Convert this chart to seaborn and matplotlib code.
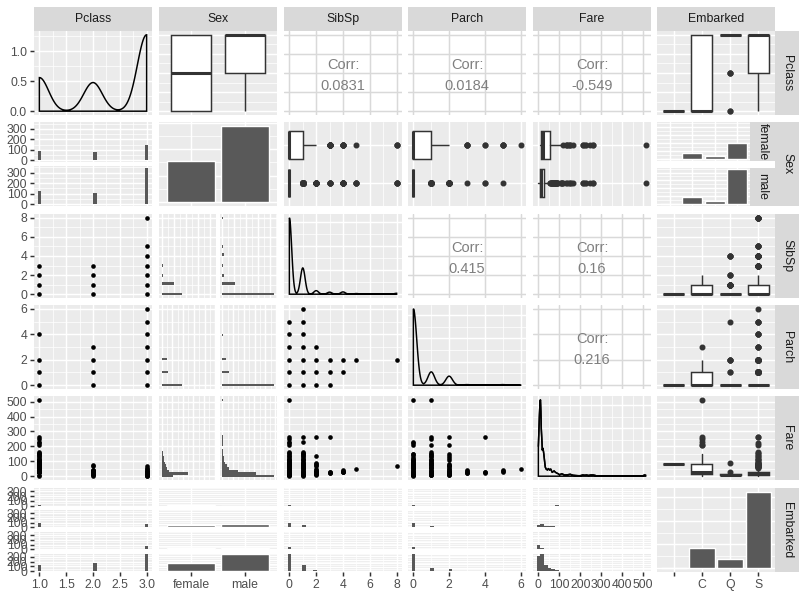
import numpy as np
import pandas as pd
import matplotlib
matplotlib.use("Agg")
import matplotlib.pyplot as plt
import seaborn as sns

# --- Titanic values ---
pclass_levels = [1, 2, 3]
pclass_female = [94, 76, 144]
pclass_male = [122, 108, 347]

sex_levels = ["female", "male"]
sex_counts = [314, 577]

embarked_levels = ["", "C", "Q", "S"]
embarked_counts = [2, 168, 77, 644]
embarked_female = [2, 73, 36, 203]
embarked_male = [0, 95, 41, 441]
sex_by_embarked = {"": [2, 0], "C": [73, 95], "Q": [36, 41], "S": [203, 441]}
pclass_by_embarked = {"": [2, 0, 0], "C": [85, 17, 66], "Q": [2, 3, 72], "S": [127, 164, 353]}

sibsp_levels = [0, 1, 2, 3, 4, 5, 8]
sibsp_female = [174, 106, 13, 11, 6, 1, 3]
sibsp_male = [434, 103, 15, 5, 12, 4, 4]
sibsp_by_embarked = {"": [2, 0, 0, 0, 0, 0, 0], "C": [113, 50, 5, 0, 0, 0, 0],
                     "Q": [60, 10, 3, 0, 4, 0, 0], "S": [433, 149, 20, 16, 14, 5, 7]}

parch_levels = [0, 1, 2, 3, 4, 5, 6]
parch_female = [194, 60, 49, 4, 2, 4, 1]
parch_male = [484, 58, 31, 1, 2, 1, 0]
parch_by_embarked = {"": [2, 0, 0, 0, 0, 0, 0], "C": [122, 29, 16, 1, 0, 0, 0],
                     "Q": [70, 2, 4, 0, 0, 1, 0], "S": [484, 87, 60, 4, 4, 4, 1]}

# which (x, y) combinations show up as points
sibsp_by_pclass = {1: [0, 1, 2, 3], 2: [0, 1, 2, 3], 3: [0, 1, 2, 3, 4, 5, 8]}
parch_by_pclass = {1: [0, 1, 2, 4], 2: [0, 1, 2, 3], 3: [0, 1, 2, 3, 4, 5, 6]}
parch_by_sibsp = {0: [0, 1, 2, 3, 4, 5], 1: [0, 1, 2, 3, 4, 5, 6], 2: [0, 1, 2, 3],
                  3: [0, 1, 2], 4: [1, 2], 5: [2], 8: [2]}

fare_max = 512.3292
fare_by_pclass = {
    1: [0, 5, 25.9, 26.55, 28.5, 30, 31, 33.5, 35.5, 38.5, 40.1, 42.4, 46.9, 49.5, 52, 55, 57,
        59.4, 61.2, 63.4, 66.6, 71, 75.3, 77.3, 79.2, 81.9, 83.2, 86.5, 89.1, 91.1, 93.5, 99,
        106.4, 108.9, 110.9, 113.3, 120, 133.7, 135.6, 146.5, 151.6, 153.5, 164.9, 211.3,
        221.8, 227.5, 247.5, 262.4, 512.3],
    2: [0, 10.5, 11.5, 13, 14.5, 16, 18.75, 21, 23, 26, 27.7, 29, 30, 32.5, 33, 36.75, 39,
        41.6, 65, 73.5],
    3: [0, 4.0, 6.2, 6.9, 7.25, 7.75, 7.9, 8.05, 8.7, 9.5, 10.5, 12.5, 14.5, 15.5, 16.1, 18,
        20.2, 20.6, 22, 23.5, 24.15, 25.5, 27.9, 29.1, 31.3, 34.4, 39.7, 46.9, 56.5, 69.55],
}
fare_by_sibsp = {
    0: [0, 5, 7.25, 7.9, 8.05, 10.5, 13, 15.5, 21, 26, 30, 35.5, 40.1, 46.9, 50, 55, 61.2,
        66.6, 71, 76.7, 79.2, 83.2, 86.5, 90, 93.5, 99, 106.4, 110.9, 113.3, 120, 133.7, 135.6,
        146.5, 153.5, 164.9, 211.3, 221.8, 227.5, 247.5, 262.4, 512.3],
    1: [0, 7.9, 9.5, 13, 15.5, 17.8, 21, 24.15, 26, 29.1, 33, 39, 45.5, 52, 57, 61.2, 66.6,
        71.3, 76.3, 78.9, 82.2, 86.5, 89.1, 93.5, 108.9, 110.9, 113.3, 120, 133.7, 136, 146.5,
        151.6, 153.5, 164.9, 227.5, 263],
    2: [7.9, 11.5, 14.5, 18, 21.7, 23.25, 26, 27.75, 31.4, 34.4, 39, 51.5, 65, 73.5, 82.3, 90,
        133.65, 262.4],
    3: [18, 21, 25.5, 27.9, 263],
    4: [29.1, 31.3, 31.4, 34.4, 39.7],
    5: [46.9],
    8: [69.55],
}
fare_by_parch = {
    0: [0, 5, 7.25, 7.9, 8.05, 10.5, 13, 15.5, 21, 26, 30, 35.5, 40.1, 46.9, 52, 55, 61.2,
        66.6, 71, 76.7, 79.2, 83.2, 86.5, 90, 93.5, 99, 106.4, 110.9, 113.3, 120, 135.6, 146.5,
        151.6, 211.3, 221.8, 227.5, 512.3],
    1: [7.9, 9.5, 11.1, 13, 15.2, 15.7, 19.5, 22.4, 26.3, 29.1, 32.5, 37, 41.6, 52.6, 57, 63.4,
        66.6, 77.96, 79.65, 81.9, 83.2, 86.5, 89.1, 93.5, 106.4, 108.9, 110.9, 120, 134.5,
        135.6, 146.5, 151.6, 164.9, 211.3, 247.5, 262.4, 512.3],
    2: [7.9, 11.1, 14.5, 18.75, 21, 23, 26, 27.9, 31.3, 34.4, 39, 46.9, 52, 65, 69.55, 73.5,
        79.65, 106.4, 120, 134.5, 151.6, 211.5, 262.4],
    3: [19.26, 23, 29.1, 34.4, 39],
    4: [23.45, 27.9, 29.1, 263],
    5: [31.3, 34.4, 39.7],
    6: [46.9],
}

# fare histogram counts, 30 bins over 0..512
fare_bins_female = [55, 124, 35, 25, 20, 14, 9, 9, 7, 5, 0, 0, 3, 2, 2, 3,
                    0, 0, 0, 0, 0, 0, 0, 0, 0, 0, 0, 0, 0, 1]
fare_bins_male = [245, 157, 74, 32, 23, 14, 8, 6, 5, 3, 2, 0, 2, 1, 1, 2,
                  0, 0, 0, 0, 0, 0, 0, 0, 0, 0, 0, 0, 0, 2]
fare_bins_by_embarked = {
    "": [0, 0, 0, 0, 0, 2, 0, 0, 0, 0, 0, 0, 0, 0, 0, 0, 0, 0, 0, 0, 0, 0, 0, 0, 0, 0, 0, 0, 0, 0],
    "C": [38, 43, 22, 14, 14, 12, 5, 3, 4, 4, 0, 0, 3, 1, 1, 1, 0, 0, 0, 0, 0, 0, 0, 0, 0, 0, 0, 0, 0, 3],
    "Q": [55, 12, 6, 0, 0, 4, 0, 0, 0, 0, 0, 0, 0, 0, 0, 0, 0, 0, 0, 0, 0, 0, 0, 0, 0, 0, 0, 0, 0, 0],
    "S": [215, 230, 87, 40, 25, 12, 8, 6, 5, 4, 4, 0, 2, 0, 2, 4, 0, 0, 0, 0, 0, 0, 0, 0, 0, 0, 0, 0, 0, 0],
}

# fare boxes: q1, median, q3, whisker low, whisker high
fare_box_sex = {"female": [12.07, 23.0, 55.0, 6.75, 113.28], "male": [7.9, 10.5, 26.55, 0.0, 53.1]}
fare_out_sex = {
    "female": [120, 133.65, 134.5, 135.63, 146.52, 151.55, 153.46, 164.87, 211.34, 211.5,
               221.78, 227.53, 247.52, 262.38, 263, 512.33],
    "male": [56.5, 57, 59.4, 61.2, 63.4, 65, 66.6, 69.55, 71, 73.5, 75.25, 76.7, 77.3, 79.2,
             81.9, 83.2, 86.5, 89.1, 90, 91.1, 93.5, 106.4, 108.9, 110.9, 113.3, 120, 133.65,
             135.6, 146.5, 151.55, 153.5, 164.87, 211.34, 211.5, 221.78, 227.53, 247.52, 262.38,
             263, 512.33],
}
fare_box_embarked = {"": [80, 80, 80, 80, 80], "C": [13.86, 29.7, 78.5, 4.01, 146.52],
                     "Q": [7.75, 7.75, 15.5, 6.75, 24.15], "S": [8.05, 13.0, 27.9, 0.0, 56.5]}
fare_out_embarked = {
    "": [],
    "C": [211.34, 211.5, 227.53, 247.52, 262.38, 512.33],
    "Q": [29.125, 90],
    "S": [57, 59.4, 61.2, 63.4, 65, 66.6, 69.55, 71, 73.5, 76.7, 77.3, 79.65, 81.9, 83.2, 86.5,
          90, 91.1, 93.5, 108.9, 110.9, 113.3, 120, 133.65, 134.5, 151.55, 153.46, 164.87,
          211.34, 221.78, 262.38, 263],
}

# fare density curve
fare_grid = [0, 2, 5, 8, 10, 12, 14, 17, 19, 21, 24, 26, 28, 30, 33, 37, 43, 48, 53, 59,
             66, 75, 82, 88, 95, 101, 112, 125, 140, 152, 165, 176, 190, 200, 212, 222, 230,
             240, 250, 262, 272, 280, 320, 400, 480, 500, 507, 512.33]
fare_density = [0.0125, 0.0176, 0.0256, 0.0314, 0.0320, 0.0272, 0.0198, 0.0147, 0.0109,
                0.0118, 0.0106, 0.0093, 0.0077, 0.0061, 0.0038, 0.0030, 0.0026, 0.0032,
                0.0026, 0.0030, 0.0016, 0.0022, 0.0016, 0.0013, 0.0010, 0.0006, 0.0010,
                0.0005, 0.0006, 0.0008, 0.0004, 0.0003, 0.0002, 0.0002, 0.0005, 0.0004,
                0.0005, 0.0003, 0.0005, 0.0005, 0.0003, 0, 0, 0, 0, 0.0002, 0.0005, 0.0004]

corr_values = {(0, 2): 0.0831, (0, 3): 0.0184, (0, 4): -0.549,
               (2, 3): 0.415, (2, 4): 0.16, (3, 4): 0.216}
var_names = ["Pclass", "Sex", "SibSp", "Parch", "Fare", "Embarked"]

# --- style / layout ---
BG = "#EBEBEB"
STRIP = "#D9D9D9"
BAR = "#595959"
LINE = "#333333"
TICKTXT = "#4D4D4D"
W, H = 807, 596
COL_X = [34, 159, 284, 408, 533, 657]
ROW_Y = [31, 122, 214, 305, 396, 488]
PW, PH = 118, 84
GAP = 3.5

sns.set_theme(style="white")
plt.rcParams["font.family"] = ["Liberation Sans", "DejaVu Sans"]

fig = plt.figure(figsize=(W / 100, H / 100), dpi=100)


def add_ax(x, y, w, h):
    return fig.add_axes([x / W, 1 - (y + h) / H, w / W, h / H])


def vsplit(x, y, w, h, n, gap=GAP):
    sh = (h - gap * (n - 1)) / n
    return [(x, y + i * (sh + gap), w, sh) for i in range(n)]


def hsplit(x, y, w, h, n, gap=GAP):
    sw = (w - gap * (n - 1)) / n
    return [(x + i * (sw + gap), y, sw, h) for i in range(n)]


def expand(lo, hi):
    pad = 0.05 * (hi - lo)
    return (lo - pad, hi + pad)


def steps(lo, hi, step):
    start = np.ceil(lo / step - 1e-9) * step
    return list(np.arange(start, hi + 1e-9, step))


def gg(ax, xlim, ylim, xstep=None, ystep=None, xcat=0, ycat=0, corr=False):
    ax.set_xlim(xlim)
    ax.set_ylim(ylim)
    ax.set_facecolor("white" if corr else BG)
    for sp in ax.spines.values():
        sp.set_visible(False)
    ax.set_xticks([])
    ax.set_yticks([])
    ax.set_xlabel("")
    ax.set_ylabel("")
    col = "#D9D9D9" if corr else "white"

    def lines(step, cat, lim, fn):
        lo, hi = sorted(lim)
        if cat:
            for v in range(cat):
                fn(v, color=col, lw=1.07, zorder=0.3)
        elif step:
            maj = steps(lo, hi, step)
            if not corr:
                for v in steps(lo, hi, step / 2):
                    if min(abs(v - m) for m in maj) > 1e-9:
                        fn(v, color=col, lw=0.53, zorder=0.2)
            for v in maj:
                fn(v, color=col, lw=1.07, zorder=0.3)

    lines(xstep, xcat, xlim, ax.axvline)
    lines(ystep, ycat, ylim, ax.axhline)


def yticks(ax, vals, labels):
    ax.set_yticks(vals, labels)
    ax.tick_params(axis="y", left=True, labelleft=True, length=2.75, width=1.07,
                   color=LINE, labelcolor=TICKTXT, labelsize=8.8, pad=2.2)


def xticks(ax, vals, labels):
    ax.set_xticks(vals, labels)
    ax.tick_params(axis="x", bottom=True, labelbottom=True, length=2.75, width=1.07,
                   color=LINE, labelcolor=TICKTXT, labelsize=8.8, pad=2.2)


def strip(x, y, w, h, label, rot=0):
    ax = add_ax(x, y, w, h)
    ax.set_facecolor(STRIP)
    for sp in ax.spines.values():
        sp.set_visible(False)
    ax.set_xticks([])
    ax.set_yticks([])
    ax.text(0.5, 0.5, label, rotation=rot, ha="center", va="center", fontsize=8.8,
            color="#1A1A1A", transform=ax.transAxes)


def flat(d):
    xs, ys = [], []
    for k, vals in d.items():
        xs += [k] * len(vals)
        ys += list(vals)
    return xs, ys


def by_group(d, levels):
    grp, vals = [], []
    for k, counts in d.items():
        grp += [k] * int(sum(counts))
        vals += list(np.repeat(levels, counts))
    return grp, vals


def edges(lo, hi):
    w = (hi - lo) / 29
    return list(lo - w / 2 + w * np.arange(31))


def centers(lo, hi):
    return lo + (hi - lo) / 29 * np.arange(30)


def cnt_lim(m):
    return (-0.05 * m, 1.05 * m)


def draw_density(ax, values):
    values = np.asarray(values, float)
    sd = values.std(ddof=1)
    q25, q75 = np.percentile(values, [25, 75])
    lo = min(sd, (q75 - q25) / 1.34) or sd
    bw = 0.9 * lo * len(values) ** -0.2
    sns.kdeplot(x=values, bw_method=bw / sd, cut=0, gridsize=512, color="black",
                linewidth=1.07, ax=ax)
    line = ax.lines[-1]
    xs, ys = np.asarray(line.get_xdata()), np.asarray(line.get_ydata())
    line.remove()
    ax.fill(np.r_[xs[0], xs, xs[-1]], np.r_[0, ys, 0], facecolor="none",
            edgecolor="black", linewidth=1.07)
    return ys.max()


def sbox(ax, x, y, order, orient):
    sns.boxplot(x=x, y=y, order=order, orient=orient, color="white", linecolor=LINE,
                linewidth=1.07, width=0.75, fliersize=3.3, showcaps=False,
                flierprops=dict(marker="o", markerfacecolor=LINE, markeredgecolor=LINE),
                medianprops=dict(linewidth=2.2), ax=ax)


def fbox(ax, boxes, outs, orientation):
    stats = [dict(q1=b[0], med=b[1], q3=b[2], whislo=b[3], whishi=b[4], fliers=outs[k])
             for k, b in boxes.items()]
    kw = dict(positions=list(range(len(stats))), widths=0.75, showcaps=False,
              patch_artist=True,
              boxprops=dict(facecolor="white", edgecolor=LINE, linewidth=1.07),
              whiskerprops=dict(color=LINE, linewidth=1.07),
              medianprops=dict(color=LINE, linewidth=2.2),
              flierprops=dict(marker="o", markersize=3.3, markerfacecolor=LINE,
                              markeredgecolor=LINE))
    try:
        ax.bxp(stats, orientation=orientation, **kw)
    except TypeError:
        ax.bxp(stats, vert=(orientation == "vertical"), **kw)


def scatter(ax, d):
    xs, ys = flat(d)
    sns.scatterplot(x=xs, y=ys, color="black", s=11, linewidth=0, ax=ax)


def hbar(ax, values, counts, bins, orient="x"):
    if orient == "x":
        sns.histplot(x=list(values), weights=list(counts), bins=bins, color=BAR, alpha=1,
                     linewidth=0, ax=ax)
    else:
        sns.histplot(y=list(values), weights=list(counts), bins=bins, color=BAR, alpha=1,
                     linewidth=0, ax=ax)


def corr_panel(ax, value):
    ax.text(0.5, 0.60, "Corr:", ha="center", va="center", fontsize=10.5,
            color="#7F7F7F", transform=ax.transAxes)
    ax.text(0.5, 0.35, f"{value:g}", ha="center", va="center", fontsize=10.5,
            color="#7F7F7F", transform=ax.transAxes)


LIM = {"Pclass": expand(1, 3), "SibSp": expand(0, 8), "Parch": expand(0, 6),
       "Fare": expand(0, fare_max)}
STEP = {"Pclass": 0.5, "SibSp": 2, "Parch": 2, "Fare": 100}
SEX_LIM, EMB_LIM = (-0.6, 1.6), (-0.6, 3.6)
SEX_LIM_INV = (1.6, -0.6)
XT = {
    "Pclass": ([1, 1.5, 2, 2.5, 3], ["1.0", "1.5", "2.0", "2.5", "3.0"]),
    "Sex": ([0, 1], sex_levels),
    "SibSp": ([0, 2, 4, 6, 8], ["0", "2", "4", "6", "8"]),
    "Parch": ([0, 2, 4, 6], ["0", "2", "4", "6"]),
    "Fare": ([0, 100, 200, 300, 400, 500], ["0", "100", "200", "300", "400", "500"]),
    "Embarked": ([0, 1, 2, 3], embarked_levels),
}
CNT_T = ([0, 100, 200, 300], ["0", "100", "200", "300"])

edges_pclass = edges(1, 3)
edges_sibsp = edges(0, 8)
edges_parch = edges(0, 6)
edges_fare = edges(0, fare_max)
fare_centers = centers(0, fare_max)

pclass_all = np.repeat(pclass_levels, np.add(pclass_female, pclass_male))
sibsp_all = np.repeat(sibsp_levels, np.add(sibsp_female, sibsp_male))
parch_all = np.repeat(parch_levels, np.add(parch_female, parch_male))

sex_pclass = (list(np.repeat(sex_levels, [sum(pclass_female), sum(pclass_male)])),
              list(np.r_[np.repeat(pclass_levels, pclass_female), np.repeat(pclass_levels, pclass_male)]))
sex_sibsp = (list(np.repeat(sex_levels, [sum(sibsp_female), sum(sibsp_male)])),
             list(np.r_[np.repeat(sibsp_levels, sibsp_female), np.repeat(sibsp_levels, sibsp_male)]))
sex_parch = (list(np.repeat(sex_levels, [sum(parch_female), sum(parch_male)])),
             list(np.r_[np.repeat(parch_levels, parch_female), np.repeat(parch_levels, parch_male)]))

# ---------------- row 1 : Pclass ----------------
y0 = ROW_Y[0]
ax = add_ax(COL_X[0], y0, PW, PH)
top = draw_density(ax, pclass_all)
gg(ax, LIM["Pclass"], cnt_lim(top), xstep=0.5, ystep=0.5)
yticks(ax, [0, 0.5, 1.0], ["0.0", "0.5", "1.0"])

ax = add_ax(COL_X[1], y0, PW, PH)
sbox(ax, sex_pclass[0], sex_pclass[1], sex_levels, "v")
gg(ax, SEX_LIM, LIM["Pclass"], xcat=2, ystep=0.5)

for c in (2, 3, 4):
    ax = add_ax(COL_X[c], y0, PW, PH)
    gg(ax, LIM[var_names[c]], LIM["Pclass"], xstep=STEP[var_names[c]], ystep=0.5, corr=True)
    corr_panel(ax, corr_values[(0, c)])

ax = add_ax(COL_X[5], y0, PW, PH)
g, v = by_group(pclass_by_embarked, pclass_levels)
sbox(ax, g, v, embarked_levels, "v")
gg(ax, EMB_LIM, LIM["Pclass"], xcat=4, ystep=0.5)

# ---------------- row 2 : Sex ----------------
y0 = ROW_Y[1]
lim_p = cnt_lim(max(pclass_male))
for (bx, by, bw, bh), counts in zip(vsplit(COL_X[0], y0, PW, PH, 2), [pclass_female, pclass_male]):
    ax = add_ax(bx, by, bw, bh)
    hbar(ax, pclass_levels, counts, edges_pclass)
    gg(ax, LIM["Pclass"], lim_p, xstep=0.5, ystep=100)
    yticks(ax, *CNT_T)

ax = add_ax(COL_X[1], y0, PW, PH)
sns.barplot(x=sex_levels, y=sex_counts, order=sex_levels, color=BAR, saturation=1,
            width=0.9, errorbar=None, ax=ax)
gg(ax, SEX_LIM, cnt_lim(max(sex_counts)), xcat=2, ystep=200)

ax = add_ax(COL_X[2], y0, PW, PH)
sbox(ax, sex_sibsp[1], sex_sibsp[0], sex_levels, "h")
gg(ax, LIM["SibSp"], SEX_LIM_INV, xstep=2, ycat=2)

ax = add_ax(COL_X[3], y0, PW, PH)
sbox(ax, sex_parch[1], sex_parch[0], sex_levels, "h")
gg(ax, LIM["Parch"], SEX_LIM_INV, xstep=2, ycat=2)

ax = add_ax(COL_X[4], y0, PW, PH)
fbox(ax, fare_box_sex, fare_out_sex, "horizontal")
gg(ax, LIM["Fare"], SEX_LIM_INV, xstep=100, ycat=2)

lim_es = cnt_lim(max(embarked_male))
for (bx, by, bw, bh), lab, counts in zip(vsplit(COL_X[5], y0, 93, PH, 2, gap=7),
                                          sex_levels, [embarked_female, embarked_male]):
    ax = add_ax(bx, by, bw, bh)
    sns.barplot(x=embarked_levels, y=counts, order=embarked_levels, color=BAR,
                saturation=1, width=0.9, errorbar=None, ax=ax)
    gg(ax, EMB_LIM, lim_es, xcat=4, ystep=100)
    strip(bx + bw, by, COL_X[5] + PW - (bx + bw), bh, lab, rot=-90)

# ---------------- row 3 : SibSp ----------------
y0 = ROW_Y[2]
ax = add_ax(COL_X[0], y0, PW, PH)
scatter(ax, sibsp_by_pclass)
gg(ax, LIM["Pclass"], LIM["SibSp"], xstep=0.5, ystep=2)
yticks(ax, *XT["SibSp"])

lim_s = cnt_lim(max(sibsp_male))
for (bx, by, bw, bh), counts in zip(hsplit(COL_X[1], y0, PW, PH, 2), [sibsp_female, sibsp_male]):
    ax = add_ax(bx, by, bw, bh)
    hbar(ax, sibsp_levels, counts, edges_sibsp, orient="y")
    gg(ax, lim_s, LIM["SibSp"], xstep=100, ystep=2)

ax = add_ax(COL_X[2], y0, PW, PH)
top = draw_density(ax, sibsp_all)
gg(ax, LIM["SibSp"], cnt_lim(top), xstep=2, ystep=0.5)

for c in (3, 4):
    ax = add_ax(COL_X[c], y0, PW, PH)
    gg(ax, LIM[var_names[c]], LIM["SibSp"], xstep=STEP[var_names[c]], ystep=2, corr=True)
    corr_panel(ax, corr_values[(2, c)])

ax = add_ax(COL_X[5], y0, PW, PH)
g, v = by_group(sibsp_by_embarked, sibsp_levels)
sbox(ax, g, v, embarked_levels, "v")
gg(ax, EMB_LIM, LIM["SibSp"], xcat=4, ystep=2)

# ---------------- row 4 : Parch ----------------
y0 = ROW_Y[3]
ax = add_ax(COL_X[0], y0, PW, PH)
scatter(ax, parch_by_pclass)
gg(ax, LIM["Pclass"], LIM["Parch"], xstep=0.5, ystep=2)
yticks(ax, *XT["Parch"])

lim_pa = cnt_lim(max(parch_male))
for (bx, by, bw, bh), counts in zip(hsplit(COL_X[1], y0, PW, PH, 2), [parch_female, parch_male]):
    ax = add_ax(bx, by, bw, bh)
    hbar(ax, parch_levels, counts, edges_parch, orient="y")
    gg(ax, lim_pa, LIM["Parch"], xstep=100, ystep=2)

ax = add_ax(COL_X[2], y0, PW, PH)
scatter(ax, parch_by_sibsp)
gg(ax, LIM["SibSp"], LIM["Parch"], xstep=2, ystep=2)

ax = add_ax(COL_X[3], y0, PW, PH)
top = draw_density(ax, parch_all)
gg(ax, LIM["Parch"], cnt_lim(top), xstep=2, ystep=0.5)

ax = add_ax(COL_X[4], y0, PW, PH)
gg(ax, LIM["Fare"], LIM["Parch"], xstep=100, ystep=2, corr=True)
corr_panel(ax, corr_values[(3, 4)])

ax = add_ax(COL_X[5], y0, PW, PH)
g, v = by_group(parch_by_embarked, parch_levels)
sbox(ax, g, v, embarked_levels, "v")
gg(ax, EMB_LIM, LIM["Parch"], xcat=4, ystep=2)

# ---------------- row 5 : Fare ----------------
y0 = ROW_Y[4]
ax = add_ax(COL_X[0], y0, PW, PH)
scatter(ax, fare_by_pclass)
gg(ax, LIM["Pclass"], LIM["Fare"], xstep=0.5, ystep=100)
yticks(ax, *XT["Fare"])

lim_f = cnt_lim(max(fare_bins_male))
for (bx, by, bw, bh), counts in zip(hsplit(COL_X[1], y0, PW, PH, 2), [fare_bins_female, fare_bins_male]):
    ax = add_ax(bx, by, bw, bh)
    hbar(ax, fare_centers, counts, edges_fare, orient="y")
    gg(ax, lim_f, LIM["Fare"], xstep=50, ystep=100)

ax = add_ax(COL_X[2], y0, PW, PH)
scatter(ax, fare_by_sibsp)
gg(ax, LIM["SibSp"], LIM["Fare"], xstep=2, ystep=100)

ax = add_ax(COL_X[3], y0, PW, PH)
scatter(ax, fare_by_parch)
gg(ax, LIM["Parch"], LIM["Fare"], xstep=2, ystep=100)

ax = add_ax(COL_X[4], y0, PW, PH)
sns.lineplot(x=fare_grid, y=fare_density, color="black", linewidth=1.07, ax=ax)
ax.fill(np.r_[fare_grid[0], fare_grid, fare_grid[-1]], np.r_[0, fare_density, 0],
        facecolor="none", edgecolor="black", linewidth=1.07)
gg(ax, LIM["Fare"], cnt_lim(max(fare_density)), xstep=100, ystep=0.01)

ax = add_ax(COL_X[5], y0, PW, PH)
fbox(ax, fare_box_embarked, fare_out_embarked, "vertical")
gg(ax, EMB_LIM, LIM["Fare"], xcat=4, ystep=100)

# ---------------- row 6 : Embarked ----------------
y0 = ROW_Y[5]
panels = vsplit(COL_X[0], y0, PW, PH, 4)
lim_pe = cnt_lim(max(max(v) for v in pclass_by_embarked.values()))
for i, ((bx, by, bw, bh), e) in enumerate(zip(panels, embarked_levels)):
    ax = add_ax(bx, by, bw, bh)
    hbar(ax, pclass_levels, pclass_by_embarked[e], edges_pclass)
    gg(ax, LIM["Pclass"], lim_pe, xstep=0.5, ystep=100)
    yticks(ax, *CNT_T)
    if i == 3:
        xticks(ax, *XT["Pclass"])

panels = vsplit(COL_X[1], y0, PW, PH, 4)
lim_se = cnt_lim(max(max(v) for v in sex_by_embarked.values()))
for i, ((bx, by, bw, bh), e) in enumerate(zip(panels, embarked_levels)):
    ax = add_ax(bx, by, bw, bh)
    sns.barplot(x=sex_levels, y=sex_by_embarked[e], order=sex_levels, color=BAR,
                saturation=1, width=0.9, errorbar=None, ax=ax)
    gg(ax, SEX_LIM, lim_se, xcat=2, ystep=100)
    if i == 3:
        xticks(ax, *XT["Sex"])

panels = vsplit(COL_X[2], y0, PW, PH, 4)
lim_sb = cnt_lim(max(max(v) for v in sibsp_by_embarked.values()))
for i, ((bx, by, bw, bh), e) in enumerate(zip(panels, embarked_levels)):
    ax = add_ax(bx, by, bw, bh)
    hbar(ax, sibsp_levels, sibsp_by_embarked[e], edges_sibsp)
    gg(ax, LIM["SibSp"], lim_sb, xstep=2, ystep=100)
    if i == 3:
        xticks(ax, *XT["SibSp"])

panels = vsplit(COL_X[3], y0, PW, PH, 4)
lim_pb = cnt_lim(max(max(v) for v in parch_by_embarked.values()))
for i, ((bx, by, bw, bh), e) in enumerate(zip(panels, embarked_levels)):
    ax = add_ax(bx, by, bw, bh)
    hbar(ax, parch_levels, parch_by_embarked[e], edges_parch)
    gg(ax, LIM["Parch"], lim_pb, xstep=2, ystep=100)
    if i == 3:
        xticks(ax, *XT["Parch"])

panels = vsplit(COL_X[4], y0, PW, PH, 4)
lim_fb = cnt_lim(max(max(v) for v in fare_bins_by_embarked.values()))
for i, ((bx, by, bw, bh), e) in enumerate(zip(panels, embarked_levels)):
    ax = add_ax(bx, by, bw, bh)
    hbar(ax, fare_centers, fare_bins_by_embarked[e], edges_fare)
    gg(ax, LIM["Fare"], lim_fb, xstep=100, ystep=50)
    if i == 3:
        xticks(ax, *XT["Fare"])

ax = add_ax(COL_X[5], y0, PW, PH)
sns.barplot(x=embarked_levels, y=embarked_counts, order=embarked_levels, color=BAR,
            saturation=1, width=0.9, errorbar=None, ax=ax)
gg(ax, EMB_LIM, cnt_lim(max(embarked_counts)), xcat=4, ystep=200)
xticks(ax, *XT["Embarked"])

# ---------------- strips ----------------
for c, name in enumerate(var_names):
    strip(COL_X[c], 7, PW, 24, name)
for r, name in enumerate(var_names):
    strip(COL_X[5] + PW, ROW_Y[r], 24, PH, name, rot=-90)

fig.savefig("out.png", dpi=100)
